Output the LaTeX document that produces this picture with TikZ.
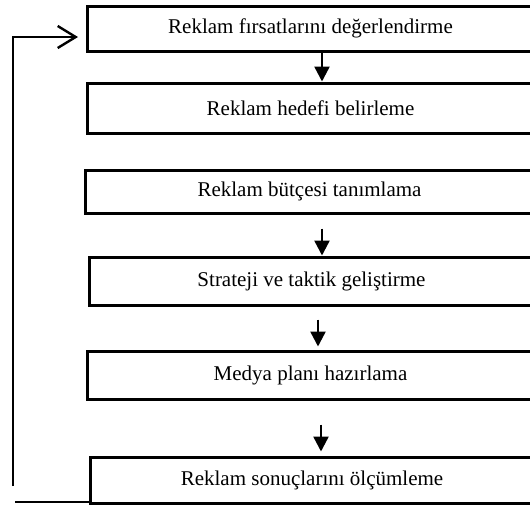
\documentclass[tikz,border=0pt]{standalone}
\usepackage{fontspec}
\setmainfont{Liberation Serif}
\usetikzlibrary{arrows.meta}

\tikzset{
	stepbox/.style={draw, line width=3pt, inner sep=0pt, minimum height=46pt,
		font=\fontsize{21}{25}\selectfont},
	flow/.style={line width=2.4pt, -{Triangle[width=15pt,length=15pt]}},
	loop/.style={line width=2.4pt}
}

\begin{document}
\begin{tikzpicture}[x=1pt, y=-1pt]
	\clip (0,0) rectangle (530,504);
	% boxes
	\node[stepbox, minimum width=447pt, minimum height=45pt] (b1) at (310.5,28.5) {Reklam fırsatlarını değerlendirme};
	\node[stepbox, minimum width=447pt, minimum height=50pt] (b2) at (310.5,108) {Reklam hedefi belirleme};
	\node[stepbox, minimum width=449pt, minimum height=43pt] (b3) at (309.5,191.5) {Reklam bütçesi tanımlama};
	\node[stepbox, minimum width=445pt, minimum height=48pt] (b4) at (311.5,281) {Strateji ve taktik geliştirme};
	\node[stepbox, minimum width=447pt, minimum height=48pt] (b5) at (310.5,375) {Medya planı hazırlama};
	\node[stepbox, minimum width=444pt, minimum height=46pt] (b6) at (312,480) {Reklam sonuçlarını ölçümleme};
	% arrows
	\draw[flow] (b1.south -| 322,0) -- (b2.north -| 322,0);
	\draw[flow, shorten <=14pt] (b3.south -| 322,0) -- (b4.north -| 322,0);
	\draw[flow, shorten <=13pt, shorten >=3pt] (b4.south -| 318,0) -- (b5.north -| 318,0);
	\draw[flow, shorten <=24pt, shorten >=4pt] (b5.south -| 321,0) -- (b6.north -| 321,0);
	% loop back
	\coordinate (lb) at (15,502);
	\coordinate (up) at (13,486);
	\coordinate (in) at (78,37);
	\draw[loop] (b6.south west |- lb) -- (lb);
	\draw[loop, -{Straight Barb[width=22pt,length=18pt,line width=2.4pt]}] (up) |- (in);
\end{tikzpicture}
\end{document}
